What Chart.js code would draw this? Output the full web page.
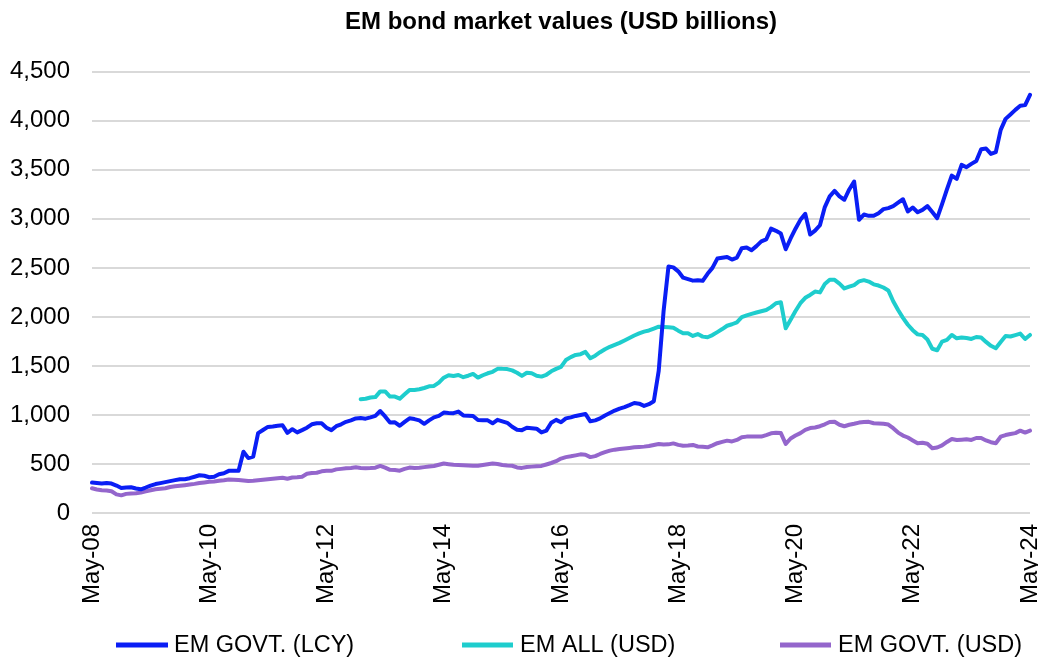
<!DOCTYPE html>
<html>
<head>
<meta charset="utf-8">
<script src="https://cdn.jsdelivr.net/npm/chart.js@4.4.1/dist/chart.umd.min.js"></script>
<style>
  html, body { margin: 0; padding: 0; background: #ffffff; }
  canvas { display: block; }
</style>
</head>
<body>
<canvas id="c" width="1038" height="658"></canvas>
<script>
// ---------- DATA ----------
const TITLE = 'EM bond market values (USD billions)';
const MONTH_NAMES = ['Jan','Feb','Mar','Apr','May','Jun','Jul','Aug','Sep','Oct','Nov','Dec'];
const FIRST_MONTH = 'May-08';
const N_MONTHS = 193; // May-08 .. May-24 monthly
const TICK_LABELS = ['May-08','May-10','May-12','May-14','May-16','May-18','May-20','May-22','May-24'];
const SERIES_NAMES = ['EM GOVT. (LCY)', 'EM ALL (USD)', 'EM GOVT. (USD)'];

// category labels (monthly)
const CATEGORIES = [];
for (let i = 0; i < N_MONTHS; i++) {
  const m = (4 + i) % 12;
  const y = 8 + Math.floor((4 + i) / 12);
  CATEGORIES.push(MONTH_NAMES[m] + '-' + String(y).padStart(2, '0'));
}

const EM_GOVT_LCY = [
  310,305,300,305,300,280,255,260,262,250,
  242,260,280,295,305,315,325,335,345,345,
  355,370,385,380,365,370,395,405,430,432,
  430,625,560,575,815,847,878,883,890,895,
  818,855,822,845,870,905,915,915,870,845,
  885,905,930,945,965,968,962,975,990,1040,
  985,922,925,890,930,966,958,945,910,945,
  975,990,1024,1020,1018,1034,995,992,990,949,
  947,945,915,950,935,920,880,850,845,870,
  865,860,822,840,920,950,925,965,975,990,
  1000,1010,935,945,965,995,1020,1045,1065,1080,
  1100,1122,1115,1092,1110,1140,1450,2060,2515,2505,
  2465,2400,2385,2370,2375,2368,2440,2500,2595,2603,
  2612,2585,2605,2700,2708,2680,2722,2770,2790,2900,
  2878,2850,2690,2800,2900,2990,3051,2840,2880,2935,
  3120,3230,3285,3230,3195,3300,3381,2990,3044,3031,
  3031,3058,3099,3110,3130,3165,3200,3075,3116,3068,
  3092,3130,3070,3007,3150,3300,3442,3408,3551,3527,
  3561,3590,3711,3718,3663,3680,3908,4020,4065,4112,
  4153,4160,4265
];

// EM ALL (USD) starts in Dec-12 (55 months after May-08)
const EM_ALL_USD_START = 55;
const EM_ALL_USD_VALUES = [
  1160,1165,1178,1182,1240,
  1240,1187,1187,1166,1210,1255,1255,1262,1275,1292,
  1296,1330,1380,1405,1398,1408,1385,1400,1418,1381,
  1405,1425,1440,1470,1470,1468,1455,1430,1398,1430,
  1425,1400,1391,1410,1445,1470,1490,1560,1590,1612,
  1620,1643,1578,1605,1640,1670,1695,1715,1735,1760,
  1785,1810,1832,1850,1862,1881,1900,1897,1895,1890,
  1860,1833,1833,1806,1825,1799,1793,1815,1845,1876,
  1910,1925,1945,1997,2015,2031,2045,2058,2070,2100,
  2140,2150,1884,1970,2060,2140,2195,2224,2259,2250,
  2335,2378,2378,2340,2290,2308,2325,2362,2375,2360,
  2332,2320,2300,2270,2160,2070,1990,1920,1865,1822,
  1815,1770,1675,1660,1748,1765,1816,1782,1790,1785,
  1775,1795,1790,1745,1705,1680,1745,1806,1800,1815,
  1830,1775,1816
];
const EM_ALL_USD = new Array(EM_ALL_USD_START).fill(null).concat(EM_ALL_USD_VALUES);

const EM_GOVT_USD = [
  252,240,233,230,222,190,180,195,200,201,
  208,220,232,243,248,252,265,272,277,283,
  290,297,306,312,318,322,328,334,342,340,
  337,332,327,330,335,340,345,350,355,360,
  350,362,364,370,400,407,411,425,430,430,
  445,450,456,460,466,460,456,458,462,480,
  462,440,438,432,450,463,460,462,468,475,
  480,492,505,498,492,490,488,485,482,482,
  490,498,505,500,490,485,482,465,460,470,
  473,476,480,495,510,528,555,570,578,588,
  598,595,570,580,602,620,636,646,653,658,
  664,670,674,677,683,694,704,698,700,710,
  695,686,688,694,678,675,670,690,712,725,
  738,730,745,772,779,779,779,779,795,813,
  818,815,705,760,790,815,848,866,872,885,
  905,928,930,900,885,900,910,922,928,930,
  915,913,910,902,865,820,790,770,740,711,
  716,706,660,668,690,725,755,745,748,752,
  745,765,765,740,722,712,778,795,806,815,
  840,820,840
];

const Y_MIN = 0, Y_MAX = 4500, Y_STEP = 500;

// ---------- STYLE ----------
const COLORS = ['#0A1EF5', '#1ECDCD', '#9466CC'];
const FONT = '"Liberation Sans", Arial, sans-serif';

const customLegend = {
  id: 'customLegend',
  afterDraw(chart) {
    const ctx = chart.ctx;
    const items = [
      { x1: 116, x2: 168, tx: 174 },
      { x1: 462, x2: 513, tx: 520 },
      { x1: 780, x2: 831, tx: 838 }
    ];
    const y = 645;
    ctx.save();
    ctx.font = '23.5px ' + FONT;
    ctx.textBaseline = 'middle';
    ctx.textAlign = 'left';
    chart.data.datasets.forEach((ds, i) => {
      const it = items[i];
      ctx.strokeStyle = ds.borderColor;
      ctx.lineWidth = 5;
      ctx.lineCap = 'butt';
      ctx.beginPath();
      ctx.moveTo(it.x1, y);
      ctx.lineTo(it.x2, y);
      ctx.stroke();
      ctx.fillStyle = '#000000';
      ctx.fillText(ds.label, it.tx, y + 1);
    });
    ctx.restore();
  }
};

new Chart(document.getElementById('c'), {
  type: 'line',
  data: {
    labels: CATEGORIES,
    datasets: [
      { label: SERIES_NAMES[0], data: EM_GOVT_LCY, borderColor: COLORS[0], backgroundColor: COLORS[0] },
      { label: SERIES_NAMES[1], data: EM_ALL_USD, borderColor: COLORS[1], backgroundColor: COLORS[1] },
      { label: SERIES_NAMES[2], data: EM_GOVT_USD, borderColor: COLORS[2], backgroundColor: COLORS[2] }
    ].map(d => Object.assign(d, {
      borderWidth: 4, pointRadius: 0, pointHoverRadius: 0, tension: 0,
      fill: false, spanGaps: false, borderJoinStyle: 'round', borderCapStyle: 'round'
    }))
  },
  options: {
    responsive: false,
    devicePixelRatio: 1,
    animation: false,
    layout: { padding: { left: 0, right: 8, top: 0, bottom: 45 } },
    plugins: {
      legend: { display: false },
      tooltip: { enabled: false },
      title: {
        display: true,
        fullSize: false,
        text: TITLE,
        color: '#000000',
        font: { family: FONT, size: 24, weight: 'bold' },
        padding: { top: 8, bottom: 35 }
      }
    },
    scales: {
      x: {
        type: 'category',
        grid: { display: false, drawTicks: false },
        border: { display: false },
        ticks: {
          autoSkip: false,
          minRotation: 90,
          maxRotation: 90,
          padding: 11,
          color: '#000000',
          font: { family: FONT, size: 24 },
          callback: function (value, index) {
            const lab = this.getLabelForValue(value);
            return TICK_LABELS.includes(lab) ? lab : null;
          }
        },
        afterFit: (s) => { s.height = 100; s.paddingLeft = 0; s.paddingRight = 0; }
      },
      y: {
        min: Y_MIN,
        max: Y_MAX,
        grid: { color: '#d9d9d9', lineWidth: 2, drawTicks: false },
        border: { display: false },
        ticks: {
          stepSize: Y_STEP,
          padding: 22,
          color: '#000000',
          font: { family: FONT, size: 24 },
          callback: (v) => Number(v).toLocaleString('en-US')
        },
        afterFit: (s) => { s.width = 92; s.paddingTop = 0; s.paddingBottom = 0; }
      }
    }
  },
  plugins: [customLegend]
});
</script>
</body>
</html>
